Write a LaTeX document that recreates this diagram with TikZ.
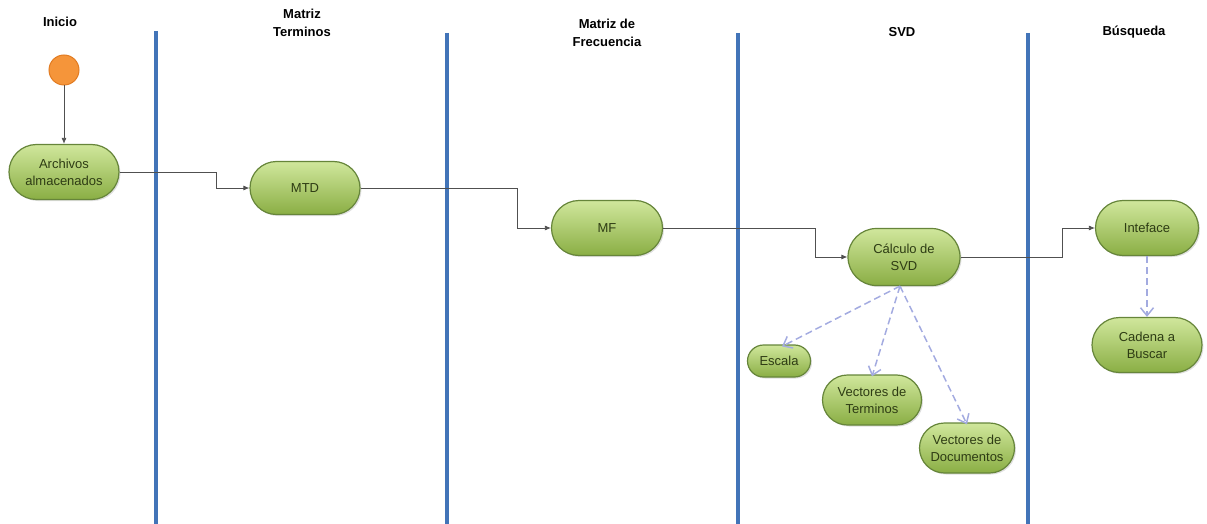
\documentclass[tikz,border=0pt]{standalone}
\usepackage{fontspec}
\setmainfont{Liberation Sans}
\usetikzlibrary{shapes.misc,arrows.meta,shadows}
\definecolor{gtop}{HTML}{D0E79C}
\definecolor{gbot}{HTML}{8AAE44}
\definecolor{gborder}{HTML}{66853A}
\definecolor{gtext}{HTML}{2E3C14}
\definecolor{lane}{HTML}{4274B8}
\definecolor{orfill}{HTML}{F5953A}
\definecolor{orborder}{HTML}{E27C22}
\definecolor{lav}{HTML}{A3ABE0}
\definecolor{conn}{HTML}{505050}
\tikzset{
  act/.style={rounded rectangle, draw=gborder, line width=1.2pt, top color=gtop, bottom color=gbot,
    text=gtext, align=center, inner sep=0pt, font=\fontsize{13}{17}\selectfont,
    drop shadow={shadow xshift=1.5pt, shadow yshift=-1.5pt, opacity=0.25}},
  startnode/.style={circle, draw=orborder, line width=1pt, fill=orfill, minimum size=30pt, inner sep=0pt},
  lanehead/.style={font=\bfseries\fontsize{13}{18}\selectfont, align=center, text=black},
  laneline/.style={lane, line width=4pt},
  flow/.style={conn, line width=0.8pt, -{Latex[length=6pt,width=5pt]}},
  dep/.style={lav, line width=1.5pt, dash pattern=on 7pt off 4pt, -{Straight Barb[length=8pt,width=13pt]}}
}
\begin{document}
\begin{tikzpicture}[x=1pt,y=-1pt]
\useasboundingbox (0,0) rectangle (1207,524);
% lane separators
\draw[laneline] (156,31) coordinate (l1t) -- (156,524) coordinate (l1b);
\draw[laneline] (447,33) coordinate (l2t) -- (447,524) coordinate (l2b);
\draw[laneline] (738,33) coordinate (l3t) -- (738,524) coordinate (l3b);
\draw[laneline] (1028,33) coordinate (l4t) -- (1028,524) coordinate (l4b);
% headers
\node[lanehead] (h1) at (60,22) {Inicio};
\node[lanehead] (h2) at (302,23) {Matriz\\Terminos};
\node[lanehead] (h3) at (607,33) {Matriz de\\Frecuencia};
\node[lanehead] (h4) at (902,32) {SVD};
\node[lanehead] (h5) at (1134,32) {Búsqueda};
% nodes
\node[startnode] (start) at (64,70) {};
\node[act, minimum width=110pt, minimum height=55pt] (arch) at (64,172) {Archivos\\almacenados};
\node[act, minimum width=110pt, minimum height=53pt] (mtd) at (305,188) {MTD};
\node[act, minimum width=111pt, minimum height=55pt] (mf) at (607,228) {MF};
\node[act, minimum width=112pt, minimum height=57pt] (calc) at (904,257) {Cálculo de\\SVD};
\node[act, minimum width=103pt, minimum height=55pt] (intf) at (1147,228) {Inteface};
\node[act, minimum width=110pt, minimum height=55pt] (cad) at (1147,345) {Cadena a\\Buscar};
\node[act, minimum width=63pt, minimum height=32pt] (esc) at (779,361) {Escala};
\node[act, minimum width=99pt, minimum height=50pt] (vt) at (872,400) {Vectores de\\Terminos};
\node[act, minimum width=95pt, minimum height=50pt] (vd) at (967,448) {Vectores de\\Documentos};
% flow connectors
\draw[flow] (start) -- (arch);
\draw[flow] (arch.east) -- ++(97,0) |- (mtd.west);
\draw[flow] (mtd.east) -- ++(157,0) |- (mf.west);
\draw[flow] (mf.east) -- ++(152,0) |- (calc.west);
\draw[flow] (calc.east) -- ++(102,0) |- (intf.west);
% dependency connectors
\draw[dep] ([xshift=-4pt]calc.south) -- ([xshift=3pt,yshift=-2pt]esc.north);
\draw[dep] ([xshift=-4pt]calc.south) -- ([yshift=-2pt]vt.north);
\draw[dep] ([xshift=-4pt]calc.south) -- ([yshift=-2pt]vd.north);
\draw[dep] (intf.south) -- (cad.north);
\end{tikzpicture}
\end{document}
